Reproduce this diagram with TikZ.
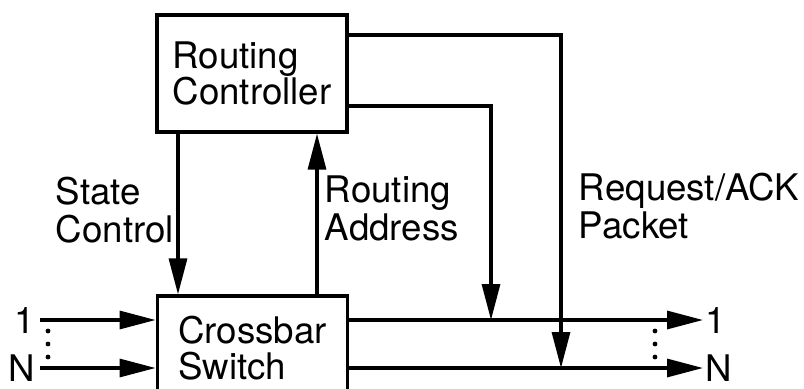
\documentclass[tikz,border=0pt]{standalone}
\usepackage{fontspec}
\setmainfont{TeX Gyre Heros}
\usetikzlibrary{arrows.meta,positioning}

\begin{document}
\begin{tikzpicture}[x=0.75pt, y=-0.75pt,
  module/.style={rectangle, draw=black, line width=2.4pt, align=left, inner sep=0pt, font=\fontsize{27.5pt}{26.5pt}\selectfont},
  lbl/.style={align=left, inner sep=2pt, font=\fontsize{27.5pt}{28.5pt}\selectfont},
  arrow/.style={->, >={Triangle[length=27pt, width=13.5pt]}, line width=2.4pt}
]
\clip (0,0) rectangle (804,389);

\node[module, minimum width=142.5pt, minimum height=87.75pt] (rc) at (252,73.5) {Routing\\Controller};
\node[module, minimum width=143pt, minimum height=78pt] (xbar) at (252.5,348) {Crossbar\\Switch};

% input and output lines
\coordinate (in1) at (40,320);
\coordinate (inN) at (40,368);
\coordinate (out1) at (703,320);
\coordinate (outN) at (703,368);
\node[lbl, left=1.5pt of in1] (lin1) {1};
\node[lbl, left=1.5pt of inN] (linN) {N};
\node[lbl, right=0pt of out1] (lout1) {1};
\node[lbl, right=0pt of outN] (loutN) {N};
\draw[arrow] (in1) -- (in1 -| xbar.west);
\draw[arrow] (inN) -- (inN -| xbar.west);
\draw[arrow] (xbar.east |- out1) -- (out1);
\draw[arrow] (xbar.east |- outN) -- (outN);
\foreach \y in {331,344,357} {
  \fill (48,\y) circle (2.4);
  \fill (655,\y) circle (2.4);
}

% control paths
\coordinate (st) at (178,0);
\coordinate (ra) at (317,0);
\coordinate (adr) at (491,106);
\coordinate (req) at (561,35);
\draw[arrow] (st |- rc.south) -- (st |- xbar.north);
\draw[arrow] (ra |- xbar.north) -- (ra |- rc.south);
\draw[arrow] (rc.east |- adr) -| (adr |- out1);
\draw[arrow] (rc.east |- req) -| (req |- outN);

\node[lbl, anchor=base west] (stlbl) at (53,242) {State\\Control};
\node[lbl, anchor=base west] (ralbl) at (322,240) {Routing\\Address};
\node[lbl, anchor=base west] (reqlbl) at (576,238) {Request/ACK\\Packet};

\end{tikzpicture}
\end{document}
